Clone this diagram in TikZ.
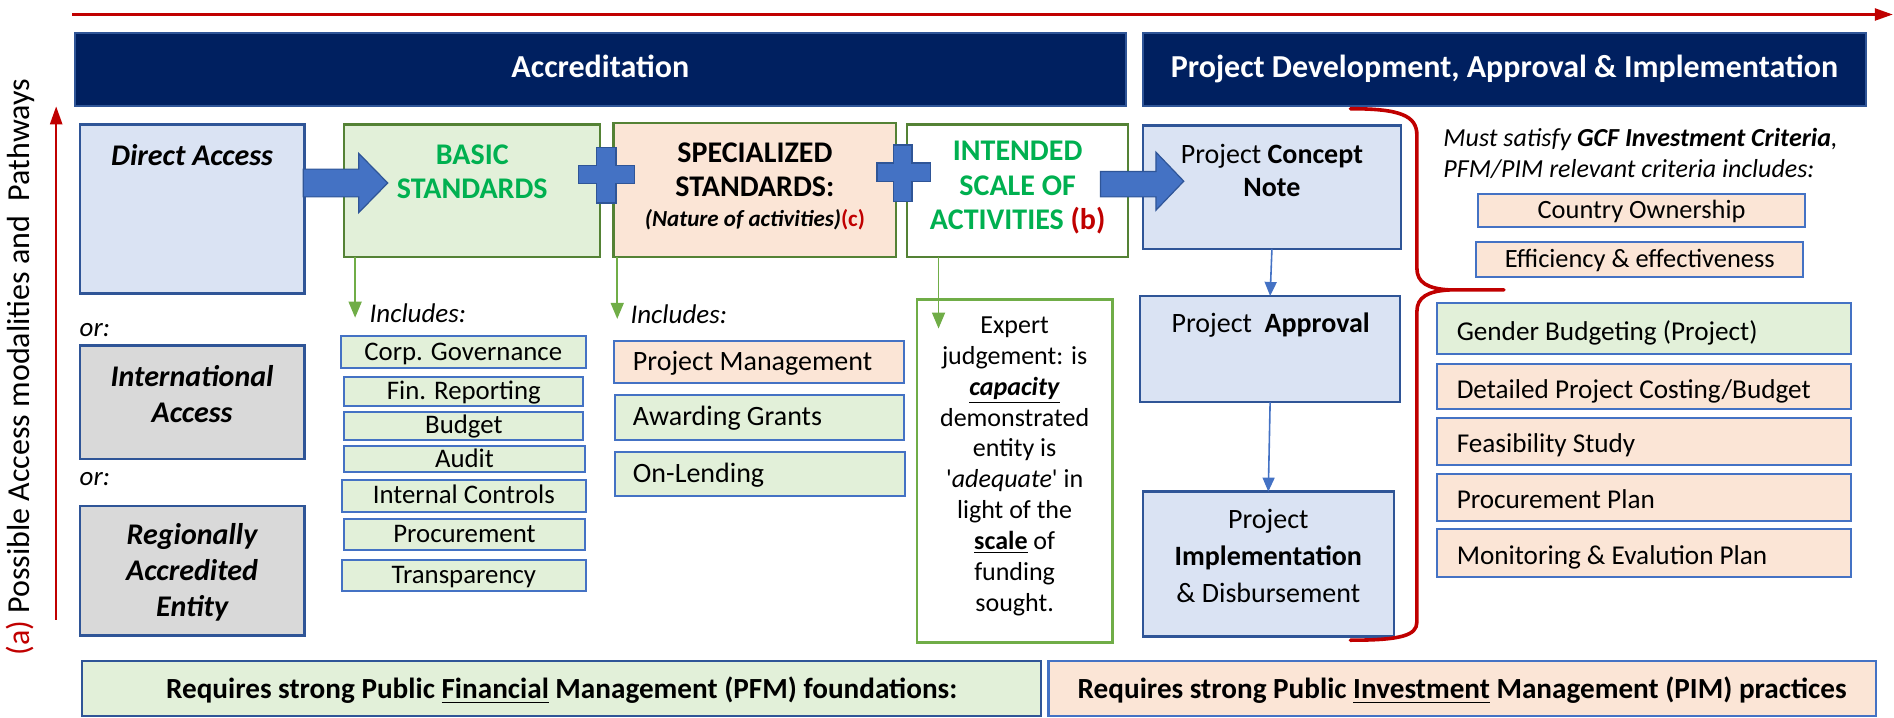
\documentclass[tikz,border=0pt]{standalone}
\usepackage{fontspec}
\setmainfont{Carlito}
\usetikzlibrary{arrows.meta,fit,calc}

\definecolor{navy}{HTML}{002060}
\definecolor{edgeblue}{HTML}{2F5597}
\definecolor{boxblue}{HTML}{DAE3F3}
\definecolor{listblue}{HTML}{4472C4}
\definecolor{boxgreen}{HTML}{E2F0D9}
\definecolor{edgegreen}{HTML}{548235}
\definecolor{lightgreen}{HTML}{70AD47}
\definecolor{textgreen}{HTML}{00B050}
\definecolor{peach}{HTML}{FBE5D6}
\definecolor{boxgray}{HTML}{D9D9D9}
\definecolor{darkred}{HTML}{C00000}

\newcommand{\fs}[2]{\fontsize{#1}{#2}\selectfont}

\begin{document}
\begin{tikzpicture}[x=0.604pt, y=-0.604pt,
  every node/.style={inner sep=0pt, outer sep=0pt},
  frame/.style={draw, line width=1.15pt, inner sep=0pt},
  titlebar/.style={frame, fill=navy, draw=edgeblue, line width=1pt},
  titletext/.style={font=\fs{16}{19}\bfseries, text=white},
  accbox/.style={frame, fill=boxblue, draw=edgeblue},
  graybox/.style={frame, fill=boxgray, draw=edgeblue},
  stdbox/.style={frame, draw=edgegreen},
  lbox/.style={draw=listblue, line width=1pt, inner sep=0pt},
  oneline/.style={text height=0.9em, text depth=0.1em},
  basictext/.style={font=\fs{13.4}{16}, oneline},
  accfont/.style={font=\fs{15}{18}\bfseries\itshape, align=center},
  stdfont/.style={font=\fs{15}{17.2}\bfseries, align=center},
  pfont/.style={font=\fs{14}{16.5}, align=center},
  rlist/.style={font=\fs{13.6}{16.5}, anchor=west, oneline},
  smallit/.style={font=\fs{13.5}{16}\itshape},
  bartext/.style={font=\fs{14.6}{17}\bfseries, oneline},
  garrow/.style={lightgreen, line width=0.8pt, -{Triangle[length=8pt,width=6.5pt]}},
  thinblue/.style={listblue, line width=0.8pt, -{Triangle[length=7pt,width=6pt]}},
  redarrow/.style={darkred, line width=1.2pt, -{Triangle[length=9pt,width=6pt]}},
  blockarrow/.style={fill=listblue, draw=edgeblue, line width=0.6pt},
  brace/.style={darkred, line width=1.8pt, line cap=round}
]
\useasboundingbox (0,0) rectangle (1568,594);

% timeline and pathway arrows
\coordinate (tlstart) at (60,12);
\coordinate (tlend) at (1567,12);
\draw[redarrow] (tlstart) -- (tlend);
\coordinate (vpstart) at (46.5,513);
\coordinate (vpend) at (46.5,88);
\draw[redarrow] (vpstart) -- (vpend);
\node[rotate=90, font=\fs{16}{18}] (vlabel) at (17,304)
  {\textcolor{darkred}{(a)} Possible Access modalities and\ \ Pathways};

% header bars
\node[titlebar, fit={(62,27) (932,88)}] (accr) {};
\node[titletext, oneline] (accrt) at (accr.center) {Accreditation};
\node[titlebar, fit={(946,27) (1545,88)}] (pdai) {};
\node[titletext, oneline] (pdait) at (pdai.center) {Project Development, Approval \& Implementation};

% access modalities
\node[accbox, fit={(66,103) (252,243)}] (direct) {};
\node[accfont] (directt) at (159,128) {Direct Access};
\node[smallit, anchor=west] (or1) at (66,273) {or:};
\node[graybox, fit={(66,286) (252,380)}] (intl) {};
\node[accfont] (intlt) at (159,326) {International\\Access};
\node[smallit, anchor=west] (or2) at (66,397) {or:};
\node[graybox, fit={(66,419) (252,526)}] (region) {};
\node[accfont] (regiont) at (159,474) {Regionally\\Accredited\\Entity};

% standards
\node[stdbox, fill=boxgreen, fit={(285,103) (497,213)}] (basic) {};
\node[stdfont, text=textgreen] (basict) at (391,142) {BASIC\\STANDARDS};
\node[stdbox, fill=peach, fit={(508,102) (742,213)}] (spec) {};
\node[stdfont] (spect) at (625,140.5) {SPECIALIZED\\STANDARDS:};
\node[font=\fs{11.5}{14}] (specn) at (625,182)
  {\textbf{\textit{(Nature of activities)}}\textbf{\textcolor{darkred}{(c)}}};
\node[stdbox, fill=white, fit={(751,103) (934,213)}] (intended) {};
\node[stdfont, text=textgreen] (intendedt) at (842.5,155.5)
  {INTENDED\\SCALE OF\\ACTIVITIES \textcolor{darkred}{(b)}};

% basic standards list
\coordinate (bi) at (294,263);
\draw[garrow] (basic.south -| bi) -- (bi);
\node[smallit, anchor=west] (binc) at (306,259) {Includes:};
\node[lbox, fill=boxgreen, fit={(282,278) (485,305)}] (b1) {};
\node[basictext] (b1t) at (b1.center) {Corp. Governance};
\node[lbox, fill=boxgreen, fit={(285,312) (483,336)}] (b2) {};
\node[basictext] (b2t) at (b2.center) {Fin. Reporting};
\node[lbox, fill=boxgreen, fit={(285,341) (483,364)}] (b3) {};
\node[basictext] (b3t) at (b3.center) {Budget};
\node[lbox, fill=boxgreen, fit={(285,369) (484,391)}] (b4) {};
\node[basictext] (b4t) at (b4.center) {Audit};
\node[lbox, fill=boxgreen, fit={(283,397) (485,424)}] (b5) {};
\node[basictext] (b5t) at (b5.center) {Internal Controls};
\node[lbox, fill=boxgreen, fit={(285,430) (484,455)}] (b6) {};
\node[basictext] (b6t) at (b6.center) {Procurement};
\node[lbox, fill=boxgreen, fit={(283,464) (485,489)}] (b7) {};
\node[basictext] (b7t) at (b7.center) {Transparency};

% specialized standards list
\coordinate (si) at (511,264);
\draw[garrow] (spec.south -| si) -- (si);
\node[smallit, anchor=west] (sinc) at (522,260) {Includes:};
\node[lbox, fill=peach, fit={(508,282) (748,317)}] (s1) {};
\node[pfont, anchor=west, oneline] (s1t) at (524,300) {Project Management};
\node[lbox, fill=boxgreen, fit={(509,327) (748,364)}] (s2) {};
\node[pfont, anchor=west, oneline] (s2t) at (524,346) {Awarding Grants};
\node[lbox, fill=boxgreen, fit={(509,374) (749,411)}] (s3) {};
\node[pfont, anchor=west, oneline] (s3t) at (524,393) {On-Lending};

% expert judgement
\node[draw=lightgreen, line width=1.2pt, fit={(759,248) (921,532)}] (expert) {};
\coordinate (ii) at (777,272);
\draw[garrow] (intended.south -| ii) -- (ii);
\node[font=\fs{13}{15.45}, align=center] (expertt) at (840,386)
  {Expert\\judgement: is\\\underline{\textbf{\textit{capacity}}}\\demonstrated\\entity is\\
   \textquotesingle\textit{adequate}\textquotesingle{} in\\light of the\\
   \underline{\textbf{scale}} of\\funding\\sought.};

% project cycle
\node[accbox, fit={(946,104) (1160,206)}] (concept) {};
\node[pfont] (conceptt) at (1053,141.5) {Project \textbf{Concept}\\\textbf{Note}};
\node[accbox, fit={(944,245) (1159,333)}] (approval) {};
\node[pfont] (approvalt) at (1052,269) {Project\ \ \textbf{Approval}};
\node[accbox, fit={(946,407) (1154,527)}] (implement) {};
\node[font=\fs{14}{18.4}, align=center] (implementt) at (1050,460.5)
  {Project\\\textbf{Implementation}\\\& Disbursement};
\draw[thinblue] (concept.south) -- (approval.north);
\draw[thinblue] (approval.south) -- (implement.north);

% block arrows and plus signs between the stages
\draw[blockarrow] (251,140) -- (297,140) -- (297,127) -- (321,151.5)
  -- (297,176) -- (297,163) -- (251,163) -- cycle;
\draw[blockarrow] (911,142) -- (957,142) -- (957,126) -- (980,150)
  -- (957,174) -- (957,163) -- (911,163) -- cycle;
\draw[blockarrow] (494,122) -- (510,122) -- (510,137) -- (525,137) -- (525,152)
  -- (510,152) -- (510,168) -- (494,168) -- (494,152) -- (479,152)
  -- (479,137) -- (494,137) -- cycle;
\draw[blockarrow] (740,120) -- (755,120) -- (755,135) -- (770,135) -- (770,150)
  -- (755,150) -- (755,167) -- (740,167) -- (740,150) -- (726,150)
  -- (726,135) -- (740,135) -- cycle;

% investment criteria brace
\draw[brace] (1118,90) .. controls (1160,90) and (1173,96) .. (1173,112)
  -- (1173,222) .. controls (1173,234) and (1182,239) .. (1200,240) -- (1245,240);
\draw[brace] (1200,240) .. controls (1182,241) and (1173,246) .. (1173,258)
  -- (1173,515) .. controls (1173,526) and (1160,530) .. (1118,530);

\node[font=\fs{13}{15.7}\itshape, align=left, anchor=north west] (crit) at (1195,106)
  {Must satisfy \textbf{GCF Investment Criteria},\\PFM/PIM relevant criteria includes:};
\node[lbox, fill=peach, fit={(1224,161) (1494,188)}] (c1) {};
\node[font=\fs{13.2}{16}, oneline] (c1t) at (c1.center) {Country Ownership};
\node[lbox, fill=peach, fit={(1222,200) (1493,229)}] (c2) {};
\node[font=\fs{13.2}{16}, oneline] (c2t) at (c2.center) {Efficiency \& effectiveness};

\node[lbox, fill=boxgreen, fit={(1190,251) (1532,293)}] (r1) {};
\node[rlist] (r1t) at (1206,275) {Gender Budgeting (Project)};
\node[lbox, fill=peach, fit={(1190,301) (1532,339)}] (r2) {};
\node[rlist] (r2t) at (1206,323) {Detailed Project Costing/Budget};
\node[lbox, fill=peach, fit={(1190,346) (1532,385)}] (r3) {};
\node[rlist] (r3t) at (1206,368) {Feasibility Study};
\node[lbox, fill=peach, fit={(1190,392) (1532,431)}] (r4) {};
\node[rlist] (r4t) at (1206,414) {Procurement Plan};
\node[lbox, fill=peach, fit={(1190,438) (1532,478)}] (r5) {};
\node[rlist] (r5t) at (1206,461) {Monitoring \& Evalution Plan};

% foundations
\node[frame, draw=edgeblue, fill=boxgreen, fit={(68,547) (862,593)}] (pfm) {};
\node[bartext] (pfmt) at ($(pfm.center)+(0,2)$)
  {Requires strong Public \underline{Financial} Management (PFM) foundations:};
\node[frame, draw=listblue, fill=peach, fit={(868,547) (1553,593)}] (pim) {};
\node[bartext] (pimt) at ($(pim.center)+(0,2)$)
  {Requires strong Public \underline{Investment} Management (PIM) practices};
\end{tikzpicture}
\end{document}
